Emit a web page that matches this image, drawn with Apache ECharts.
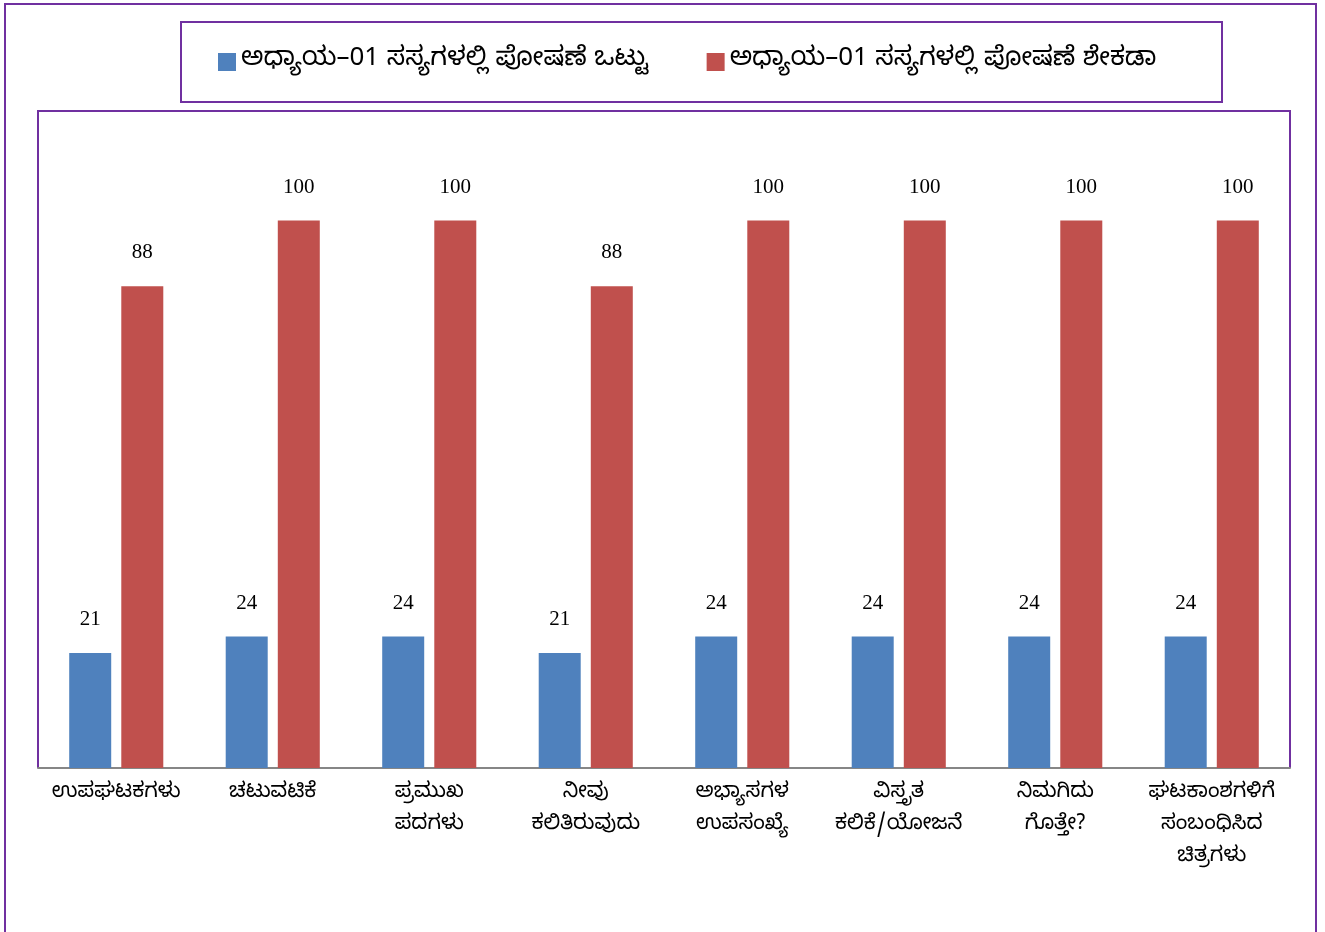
<!DOCTYPE html>
<html>
<head>
<meta charset="utf-8">
<script src="https://cdn.jsdelivr.net/npm/echarts@6/dist/echarts.min.js"></script>
<style>
  html, body { margin: 0; padding: 0; background: #fff; }
  #container { width: 1325px; height: 932px; }
</style>
</head>
<body>
<div id="container"></div>
<script>
  var categories = [
    'ಉಪಘಟಕಗಳು',
    'ಚಟುವಟಿಕೆ',
    'ಪ್ರಮುಖ\nಪದಗಳು',
    'ನೀವು\nಕಲಿತಿರುವುದು',
    'ಅಭ್ಯಾಸಗಳ\nಉಪಸಂಖ್ಯೆ',
    'ವಿಸ್ತೃತ\nಕಲಿಕೆ/ಯೋಜನೆ',
    'ನಿಮಗಿದು\nಗೊತ್ತೇ?',
    'ಘಟಕಾಂಶಗಳಿಗೆ\nಸಂಬಂಧಿಸಿದ\nಚಿತ್ರಗಳು'
  ];
  var seriesNames = [
    'ಅಧ್ಯಾಯ–01 ಸಸ್ಯಗಳಲ್ಲಿ ಪೋಷಣೆ ಒಟ್ಟು',
    'ಅಧ್ಯಾಯ–01 ಸಸ್ಯಗಳಲ್ಲಿ ಪೋಷಣೆ ಶೇಕಡಾ'
  ];
  var totalValues = [21, 24, 24, 21, 24, 24, 24, 24];
  var percentValues = [88, 100, 100, 88, 100, 100, 100, 100];

  var purple = '#7030A0';
  var kannadaFont = "'Noto Sans Kannada', 'Noto Sans', 'DejaVu Sans', sans-serif";
  var numberFont = "'Liberation Serif', 'DejaVu Serif', serif";

  var chart = echarts.init(document.getElementById('container'), null, { renderer: 'canvas' });

  function barSeries(name, data, color) {
    return {
      name: name,
      type: 'bar',
      data: data,
      barWidth: 42,
      barGap: '24%',
      itemStyle: { color: color },
      label: {
        show: true,
        position: 'top',
        distance: 23,
        color: '#000',
        fontSize: 21,
        fontFamily: numberFont
      }
    };
  }

  var option = {
    animation: false,
    backgroundColor: '#fff',
    graphic: [
      // outer frame
      { type: 'rect', shape: { x: 5, y: 4, width: 1311, height: 940 }, style: { fill: 'none', stroke: purple, lineWidth: 2 }, z: -10 },
      // legend box
      { type: 'rect', shape: { x: 181, y: 22, width: 1041, height: 80 }, style: { fill: 'none', stroke: purple, lineWidth: 2 }, z: -10 },
      // plot box (left, top, right)
      { type: 'polyline', shape: { points: [[38, 768], [38, 111], [1290, 111], [1290, 768]] }, style: { fill: 'none', stroke: purple, lineWidth: 2 }, z: -10 }
    ],
    legend: {
      data: seriesNames,
      left: 213,
      top: 44,
      itemWidth: 18,
      itemHeight: 18,
      itemGap: 58,
      icon: 'rect',
      textStyle: { fontSize: 26, color: '#000', fontFamily: kannadaFont }
    },
    grid: { left: 38, right: 35, top: 111, bottom: 164, containLabel: false },
    xAxis: {
      type: 'category',
      data: categories,
      axisLine: { lineStyle: { color: '#868686', width: 2 } },
      axisTick: { show: false },
      axisLabel: {
        interval: 0,
        margin: 11,
        color: '#000',
        fontSize: 21,
        lineHeight: 32,
        fontFamily: kannadaFont
      }
    },
    yAxis: {
      type: 'value',
      min: 0,
      max: 120,
      show: false,
      splitLine: { show: false }
    },
    series: [
      barSeries(seriesNames[0], totalValues, '#4F81BD'),
      barSeries(seriesNames[1], percentValues, '#C0504D')
    ]
  };

  chart.setOption(option);
</script>
</body>
</html>
